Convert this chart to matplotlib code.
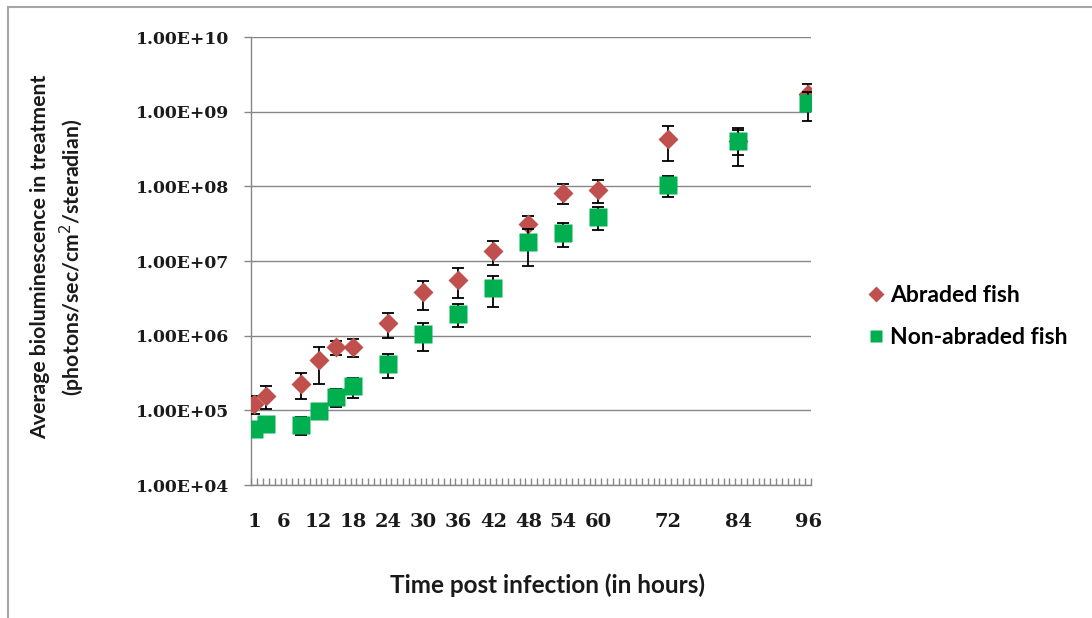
import matplotlib
matplotlib.use("Agg")
import matplotlib.pyplot as plt
from matplotlib.lines import Line2D
from matplotlib.ticker import FixedLocator, NullFormatter, NullLocator
import numpy as np

# sampling times (hours post infection)
hours = [1, 3, 9, 12, 15, 18, 24, 30, 36, 42, 48, 54, 60, 72, 84, 96]

# mean bioluminescence and standard deviation per time point
abraded_mean = [1.23e5, 1.57e5, 2.28e5, 4.68e5, 7.06e5, 7.1e5, 1.48e6, 3.79e6,
                5.61e6, 1.37e7, 3.15e7, 8.27e7, 8.98e7, 4.28e8, 4.0e8, 1.75e9]
abraded_sd = [3.3e4, 5.2e4, 8.8e4, 2.4e5, 1.55e5, 1.9e5, 5.5e5, 1.6e6,
              2.4e6, 4.9e6, 9e6, 2.5e7, 3e7, 2.1e8, 2.1e8, 5.8e8]

nonabraded_mean = [5.65e4, 6.65e4, 6.44e4, 9.7e4, 1.51e5, 2.11e5, 4.18e5, 1.06e6,
                   1.97e6, 4.35e6, 1.77e7, 2.36e7, 3.94e7, 1.05e8, 4.1e8, 1.3e9]
nonabraded_sd = [1e4, 1e4, 1.7e4, 1.5e4, 4.1e4, 6.4e4, 1.5e5, 4.4e5,
                 6.8e5, 1.9e6, 9e6, 8.3e6, 1.35e7, 3.4e7, 1.5e8, 5.6e8]

xtick_labels = [1, 6, 12, 18, 24, 30, 36, 42, 48, 54, 60, 72, 84, 96]
ytick_values = [1e4, 1e5, 1e6, 1e7, 1e8, 1e9, 1e10]
ytick_labels = ["1.00E+04", "1.00E+05", "1.00E+06", "1.00E+07",
                "1.00E+08", "1.00E+09", "1.00E+10"]

RED = "#C0504D"
GREEN = "#00B050"
GRID = "#878787"
TEXT = "#1a1a1a"

fig = plt.figure(figsize=(10.92, 6.18), dpi=100)
ax = fig.add_axes([0.2303, 0.2152, 0.5124, 0.7249])

# error bars first, then markers; non-abraded series sits on top
ax.errorbar(hours, abraded_mean, yerr=abraded_sd, fmt="none", ecolor="black",
            elinewidth=1.3, capsize=4.3, capthick=1.3, zorder=3)
ax.plot(hours, abraded_mean, linestyle="none", marker="D", color=RED,
        markersize=10.5, markeredgecolor="none", zorder=3.5)
ax.errorbar(hours, nonabraded_mean, yerr=nonabraded_sd, fmt="none", ecolor="black",
            elinewidth=1.3, capsize=4.3, capthick=1.3, zorder=4)
ax.plot(hours, nonabraded_mean, linestyle="none", marker="s", color=GREEN,
        markersize=13, markeredgecolor="none", zorder=4.5)

ax.set_yscale("log")
ax.set_ylim(1e4, 1e10)
ax.set_xlim(0.5, 96.5)

# y axis: decade gridlines with Excel-style labels
ax.yaxis.set_major_locator(FixedLocator(ytick_values))
ax.yaxis.set_minor_locator(NullLocator())
ax.set_yticklabels(ytick_labels)
ax.yaxis.set_minor_formatter(NullFormatter())
ax.grid(axis="y", color=GRID, linewidth=1.0)
ax.set_axisbelow(True)
ax.tick_params(axis="y", which="major", direction="out", length=5,
               color=GRID, width=1.0, pad=11)

# x axis: one inward tick per hour boundary, labels at selected hours
ax.set_xticks(xtick_labels)
ax.set_xticklabels([str(h) for h in xtick_labels])
ax.set_xticks(np.arange(0.5, 97, 1.0), minor=True)
ax.tick_params(axis="x", which="major", length=0, pad=20)
ax.tick_params(axis="x", which="minor", direction="in", length=5,
               color=GRID, width=1.0)

for lab in ax.get_yticklabels():
    lab.set_fontfamily("DejaVu Serif")
    lab.set_fontweight("bold")
    lab.set_fontsize(12.4)
    lab.set_color(TEXT)
for lab in ax.get_xticklabels():
    lab.set_fontfamily("DejaVu Serif")
    lab.set_fontweight("bold")
    lab.set_fontsize(14)
    lab.set_color(TEXT)

for side in ("top", "right"):
    ax.spines[side].set_visible(False)
for side in ("left", "bottom"):
    ax.spines[side].set_color(GRID)
    ax.spines[side].set_linewidth(1.0)

fig.text(0.0366, 0.584, "Average bioluminescence in treatment",
         rotation=90, ha="center", va="center", fontsize=15.3,
         fontfamily="Lato", fontweight="bold", color=TEXT)
fig.text(0.0659, 0.584, "(photons/sec/cm$^{2}$/steradian)",
         rotation=90, ha="center", va="center", fontsize=15.3,
         fontfamily="Lato", fontweight="bold", color=TEXT)
fig.text(0.5018, 0.0534, "Time post infection (in hours)",
         ha="center", va="center", fontsize=17.5,
         fontfamily="Lato", fontweight="bold", color=TEXT)

handles = [
    Line2D([], [], linestyle="none", marker="D", color=RED,
           markersize=8.6, markeredgecolor="none", label="Abraded fish"),
    Line2D([], [], linestyle="none", marker="s", color=GREEN,
           markersize=8.6, markeredgecolor="none", label="Non-abraded fish"),
]
fig.legend(handles=handles, loc="center left", bbox_to_anchor=(0.777, 0.488),
           frameon=False, handlelength=0.6, handletextpad=0.3,
           labelspacing=0.9, prop={"family": "Lato", "weight": "bold", "size": 16.5})

# outer chart border (only top and left edges fall inside the image)
fig.add_artist(Line2D([0.0073, 0.0073], [0, 0.9887], transform=fig.transFigure,
                      color="#A6A6A6", linewidth=1.5))
fig.add_artist(Line2D([0.0073, 1.0], [0.9887, 0.9887], transform=fig.transFigure,
                      color="#A6A6A6", linewidth=1.5))

fig.savefig("out.png", dpi=100)
